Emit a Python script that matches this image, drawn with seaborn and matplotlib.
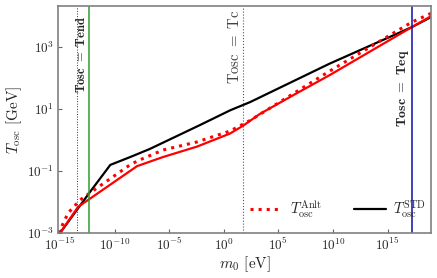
import numpy as np
import matplotlib
matplotlib.use("Agg")
import matplotlib.pyplot as plt
import seaborn as sns

# log10 values
std_logm = [-15.2, -15.0, -12.3, -10.4, -8.6, -6.8, -2.2, 0.6, 2.4, 9.7, 17.2, 19.0]
std_logT = [-3.1, -3.0, -1.7, -0.81, -0.56, -0.3, 0.47, 0.95, 1.21, 2.45, 3.62, 3.95]

anlt_logm = [-15.2, -15.0, -13.35, -12.4, -7.95, -5.6, -2.45, 0.57, 1.76, 3.3, 6.7, 9.7, 17.2, 19.0]
anlt_logT = [-3.1, -3.0, -2.16, -1.93, -0.85, -0.56, -0.22, 0.2, 0.45, 0.83, 1.5, 2.08, 3.62, 3.98]

anltdot_logm = [-15.2, -15.0, -14.27, -13.17, -12.3, -8.6, -7.9, -5.57, -2.45, 0.57, 2.4, 9.7, 17.2, 19.0]
anltdot_logT = [-3.0, -2.9, -2.36, -1.94, -1.72, -0.81, -0.68, -0.33, -0.07, 0.28, 0.62, 2.21, 3.78, 4.07]

# vertical markers (log10 m0)
m_osc_end = -13.42
m_tend = -12.34
m_tc = 1.75
m_teq = 17.26

sns.set_style("ticks")
plt.rcParams['font.family'] = 'serif'
plt.rcParams['font.serif'] = ['cmr10', 'DejaVu Serif']
plt.rcParams['mathtext.fontset'] = 'cm'
plt.rcParams['axes.formatter.use_mathtext'] = True
plt.rcParams['axes.unicode_minus'] = False

fig = plt.figure(figsize=(4.37, 2.78), dpi=100)
ax = fig.add_axes([0.133, 0.162, 0.853, 0.816])

sns.lineplot(x=10.0**np.array(std_logm), y=10.0**np.array(std_logT), ax=ax,
             color='black', lw=1.6, label=r'$T_{\rm osc}^{\rm STD}$', sort=False)
sns.lineplot(x=10.0**np.array(anlt_logm), y=10.0**np.array(anlt_logT), ax=ax,
             color='red', lw=1.6, sort=False)
sns.lineplot(x=10.0**np.array(anltdot_logm), y=10.0**np.array(anltdot_logT), ax=ax,
             color='red', lw=2.2, linestyle=':', label=r'$T_{\rm osc}^{\rm Anlt}$', sort=False)

ax.axvline(10.0**m_osc_end, color='#1a4a1a', lw=0.7, ls=':')
ax.axvline(10.0**m_tend, color='#2e9e2e', lw=1.1)
ax.axvline(10.0**m_tc, color='#4a4ad0', lw=0.8, ls=':')
ax.axvline(10.0**m_teq, color='#1010a8', lw=1.1)

ax.text(10.0**(m_tend - 0.1), 10.0**1.5, r'$\mathbf{Tosc\ =\ Tend}$', rotation=90,
        ha='right', va='bottom', fontsize=9)
ax.text(10.0**(m_tc - 0.1), 10.0**1.8, r'$\mathrm{Tosc\ =\ Tc}$', rotation=90,
        ha='right', va='bottom', fontsize=10.6, color='0.25')
ax.text(10.0**(m_teq - 0.1), 10.0**0.4, r'$\mathbf{Tosc\ =\ Teq}$', rotation=90,
        ha='right', va='bottom', fontsize=10)

ax.set_xscale('log')
ax.set_yscale('log')
ax.set_xlim(10.0**-15.18, 10.0**18.97)
ax.set_ylim(1e-3, 10.0**4.3)
ax.set_xticks([1e-15, 1e-10, 1e-5, 1e0, 1e5, 1e10, 1e15])
ax.set_yticks([1e-3, 1e-1, 1e1, 1e3])
ax.minorticks_off()
ax.tick_params(direction='in', length=3, labelsize=9.5, color='0.4', pad=3)
for s in ax.spines.values():
    s.set_color('0.5')
    s.set_linewidth(1.2)

ax.set_xlabel(r'$m_0$ [eV]', fontsize=11, labelpad=1)
ax.set_ylabel(r'$T_{\rm osc}$ [GeV]', fontsize=11, labelpad=2)

h, l = ax.get_legend_handles_labels()
ax.legend([h[1], h[0]], [l[1], l[0]], ncol=2, frameon=False, fontsize=10.5,
          loc='center left', bbox_to_anchor=(0.5, 0.106), borderaxespad=0,
          handlelength=2.2, columnspacing=2.2, handletextpad=0.5)

fig.savefig('out.png', dpi=100)
